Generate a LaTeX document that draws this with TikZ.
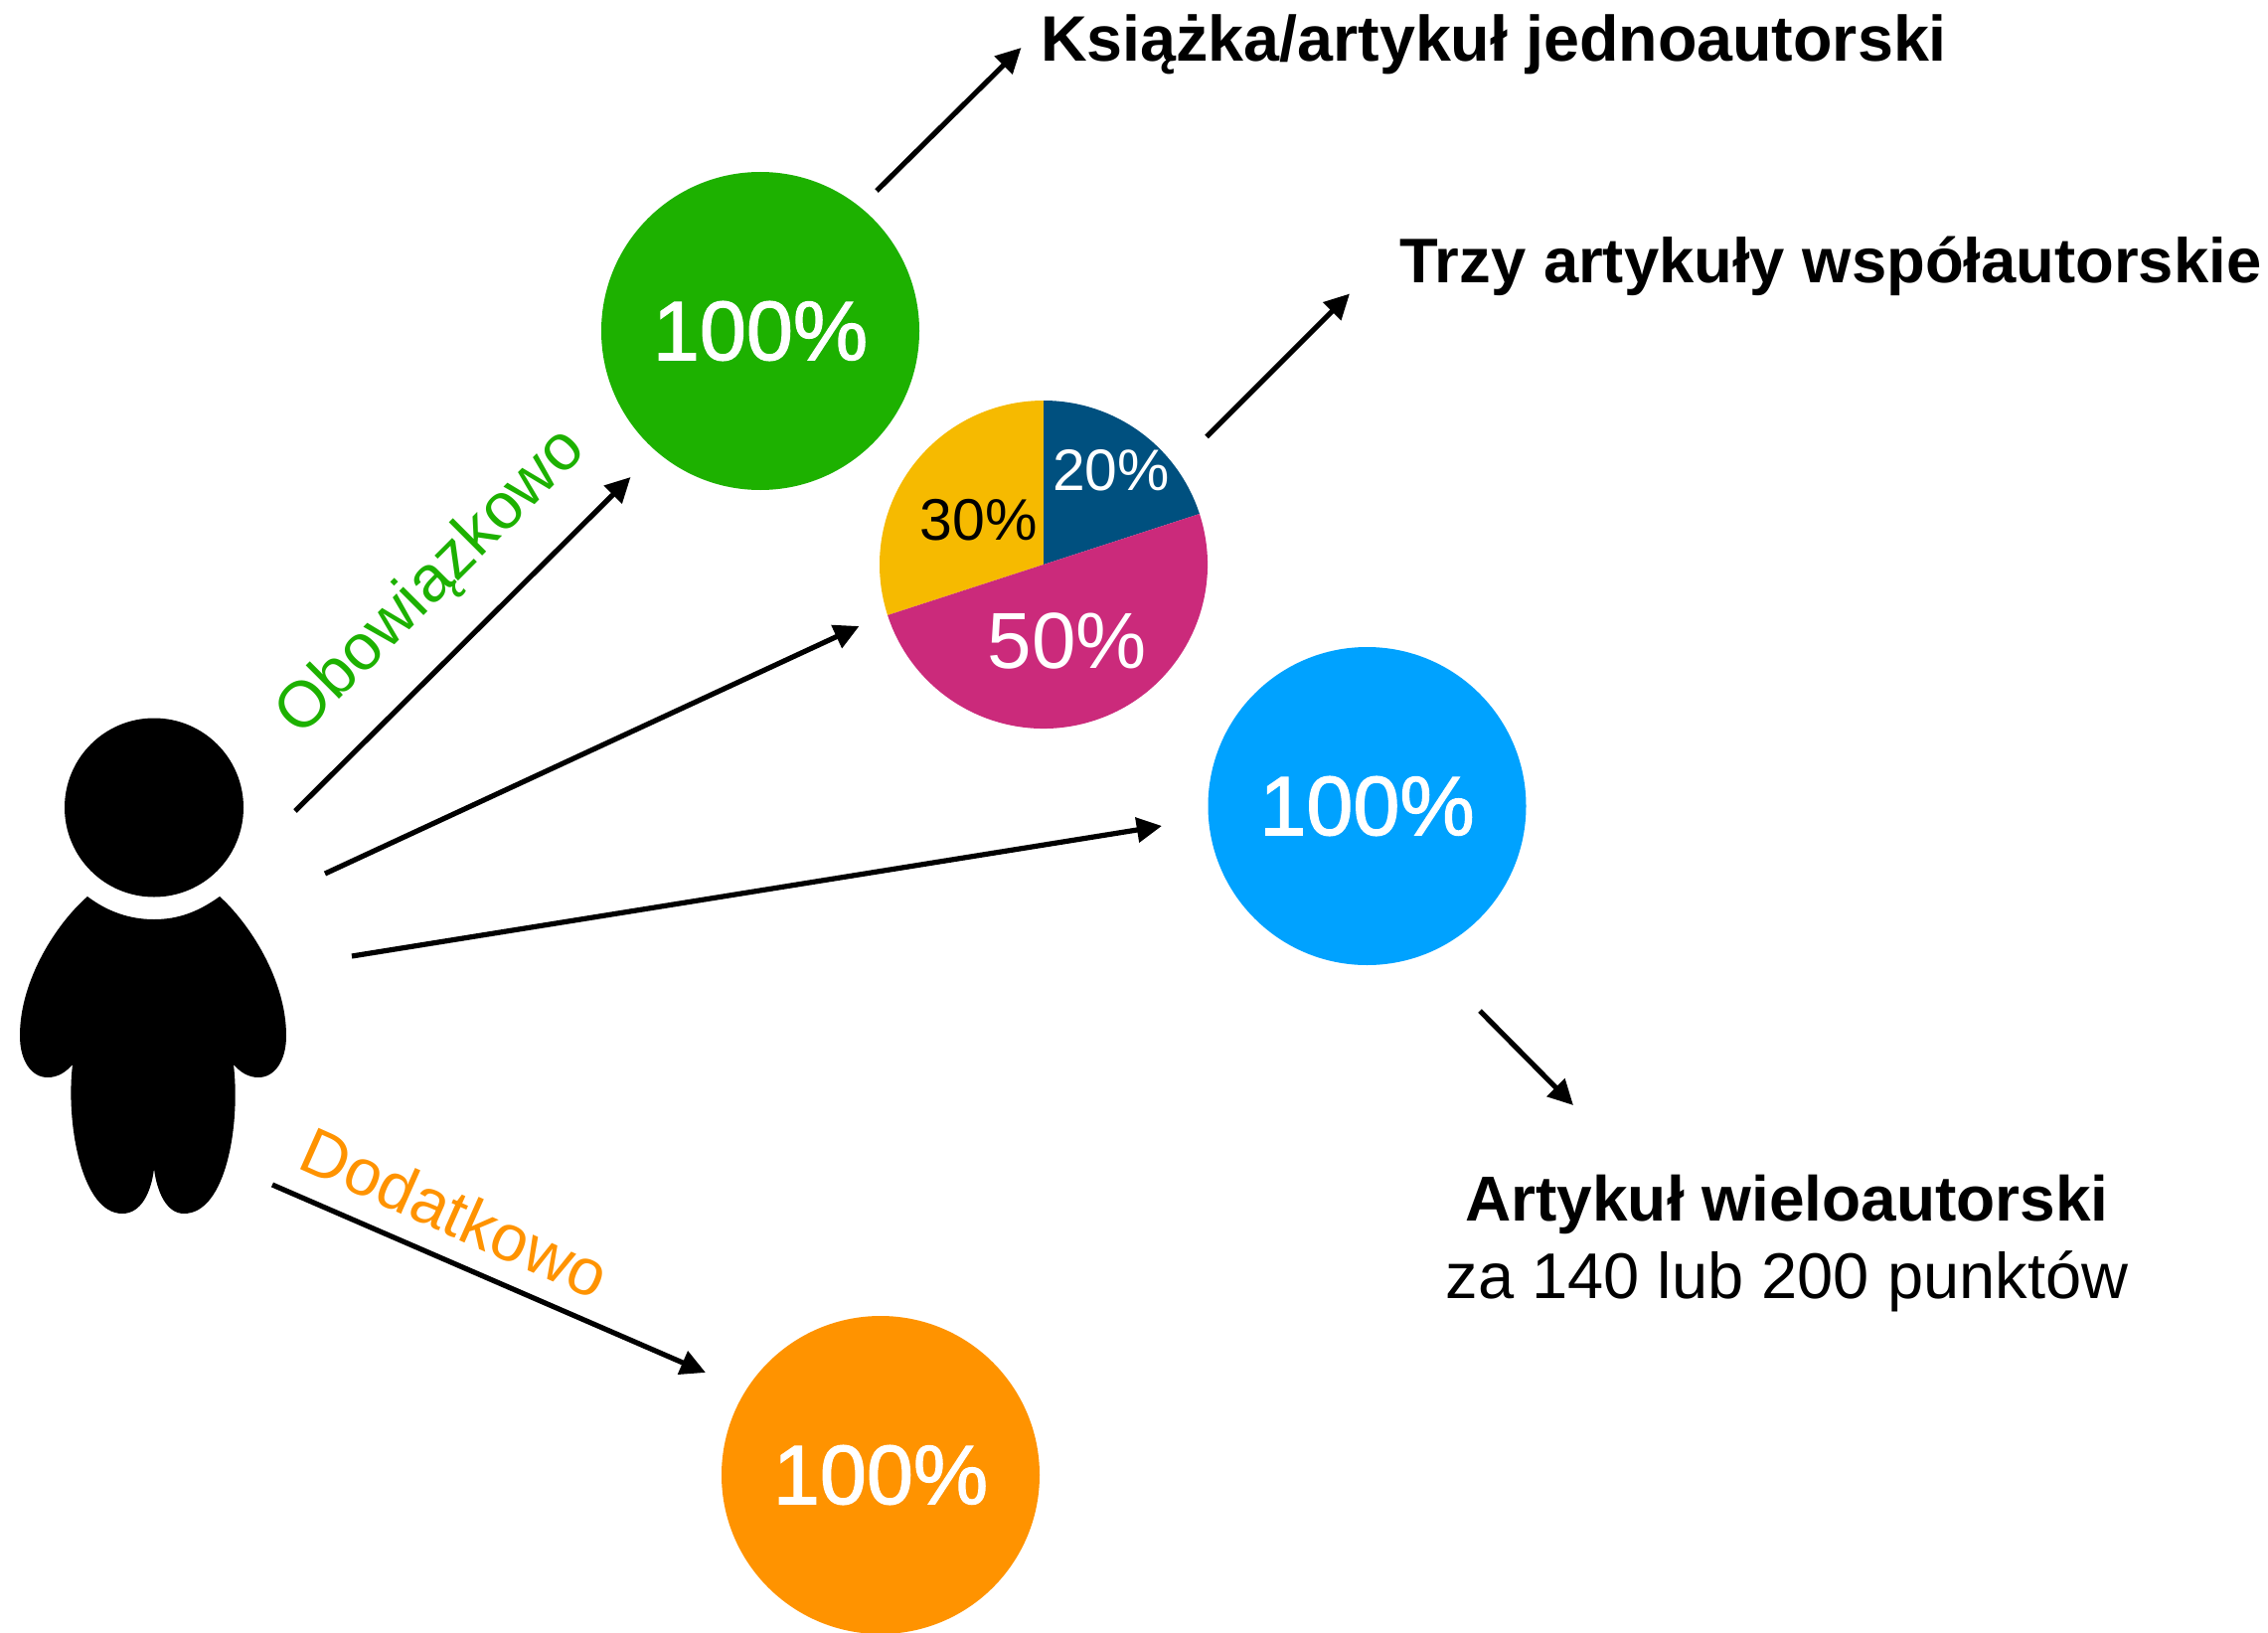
\documentclass[tikz,border=0pt]{standalone}
\usepackage{fontspec}
\setmainfont{Liberation Sans}
\newfontfamily\medfont[FakeBold=1.5]{Liberation Sans}
\usetikzlibrary{arrows.meta}
\definecolor{cgreen}{HTML}{1DB100}
\definecolor{cblue}{HTML}{00A2FF}
\definecolor{corange}{HTML}{FF9300}
\definecolor{pblue}{HTML}{00507F}
\definecolor{pmag}{HTML}{CB2A7B}
\definecolor{pyel}{HTML}{F6BA00}
\tikzset{
  arrowline/.style={line width=2.6pt,-{Triangle[length=12.6pt,width=12.3pt]}},
  bignode/.style={circle,minimum size=160pt,inner sep=0pt,text=white,font=\medfont\fontsize{42.3}{42.3}\selectfont},
  boldlabel/.style={text=black,inner sep=0pt},
  plainlabel/.style={font=\fontsize{32.5}{32.5}\selectfont,text=black,inner sep=0pt},
  catlabel/.style={inner sep=0pt}
}
\begin{document}
\begin{tikzpicture}[x=0.5pt,y=-0.5pt]
\useasboundingbox (0,0) rectangle (2282,1643);
% person
\fill[black] (155,812.5) circle [radius=90];
\fill[black] (88,902) .. controls (108,917) and (130,925) .. (155,925)
  .. controls (180,925) and (200,917) .. (221,902)
  .. controls (250,928) and (288,985) .. (288,1042)
  .. controls (288,1068) and (276,1084) .. (260,1084)
  .. controls (250,1084) and (242,1079) .. (235,1071)
  .. controls (242,1130) and (228,1221) .. (185,1221)
  .. controls (168,1221) and (158,1200) .. (155,1176)
  .. controls (152,1200) and (142,1221) .. (123,1221)
  .. controls (82,1221) and (66,1130) .. (73,1071)
  .. controls (66,1079) and (58,1084) .. (48,1084)
  .. controls (32,1084) and (20,1068) .. (20,1042)
  .. controls (20,985) and (58,928) .. (88,902) -- cycle;
% circles
\node[bignode,fill=cgreen] (mand) at (765,333) {100\%};
\node[bignode,fill=cblue] (multi) at (1375.5,811) {100\%};
\node[bignode,fill=corange] (extra) at (886,1484) {100\%};
% pie
\fill[pyel] (1050,568) -- (1050,403) arc[start angle=-90,end angle=-198,radius=165] -- cycle;
\fill[pblue] (1050,568) -- (1050,403) arc[start angle=-90,end angle=-18,radius=165] -- cycle;
\fill[pmag] (1050,568) -- ++(-18:165) arc[start angle=-18,end angle=162,radius=165] -- cycle;
\node[text=white,font=\fontsize{29.4}{29.4}\selectfont,inner sep=0pt] (p20) at (1118,473) {20\%};
\node[text=black,font=\fontsize{29.5}{29.5}\selectfont,inner sep=0pt] (p30) at (985,523) {30\%};
\node[text=white,font=\fontsize{40}{40}\selectfont,inner sep=0pt] (p50) at (1074,645) {50\%};
% labels
\node[boldlabel,font=\fontsize{32.3}{32.3}\selectfont\bfseries] (book) at (1503,45) {Książka/artykuł jednoautorski};
\node[boldlabel,font=\fontsize{31.7}{31.7}\selectfont\bfseries] (three) at (1842,268) {Trzy artykuły współautorskie};
\node[boldlabel,font=\fontsize{32}{32}\selectfont\bfseries] (many) at (1798,1212) {Artykuł wieloautorski};
\node[plainlabel] (many2) at (1798,1289) {za 140 lub 200 punktów};
\node[catlabel,font=\fontsize{32.7}{32.7}\selectfont,text=cgreen,rotate=45] (oblig) at (435,587) {Obowiązkowo};
\node[catlabel,font=\fontsize{33}{33}\selectfont,text=corange,rotate=-24] (addit) at (458,1220) {Dodatkowo};
% arrow ends
\coordinate (a1s) at (297,816); \coordinate (a1e) at (634.5,480);
\coordinate (a2s) at (327,879); \coordinate (a2e) at (864.5,630);
\coordinate (a3s) at (354,962); \coordinate (a3e) at (1169,831);
\coordinate (a4s) at (274,1192); \coordinate (a4e) at (710,1381);
\coordinate (a5s) at (882,192); \coordinate (a5e) at (1027.5,48);
\coordinate (a6s) at (1214,439.5); \coordinate (a6e) at (1358,295.5);
\coordinate (a7s) at (1489,1017); \coordinate (a7e) at (1583,1112);
\draw[arrowline] (a1s) -- (a1e);
\draw[arrowline] (a2s) -- (a2e);
\draw[arrowline] (a3s) -- (a3e);
\draw[arrowline] (a4s) -- (a4e);
\draw[arrowline] (a5s) -- (a5e);
\draw[arrowline] (a6s) -- (a6e);
\draw[arrowline] (a7s) -- (a7e);
\end{tikzpicture}
\end{document}
